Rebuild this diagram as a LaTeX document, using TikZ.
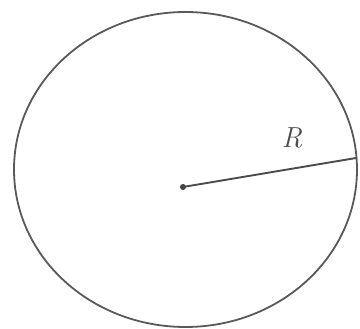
\documentclass[tikz,border=0pt]{standalone}
\usepackage{tikz}
\usetikzlibrary{positioning}

\begin{document}
\begin{tikzpicture}[
			x=1pt, y=-1pt,
			rim/.style={draw=black!65, line width=1.8pt},
			rad/.style={draw=black!70, line width=1.9pt},
			lbl/.style={font=\fontsize{29}{29}\selectfont\itshape, text=black!70, inner sep=0pt}
			]
			\useasboundingbox (0,0) rectangle (360,329);
			\draw[rim] (185.5,169.5) ellipse [x radius=171.5, y radius=157.5];
			\coordinate (ctr) at (183,187);
			\coordinate (edge) at (356,158);
			\fill[black!75] (ctr) circle (3);
			\draw[rad] (ctr) -- (edge);
			\node[lbl] (rlabel) at (292,138) {R};
		\end{tikzpicture}
\end{document}
